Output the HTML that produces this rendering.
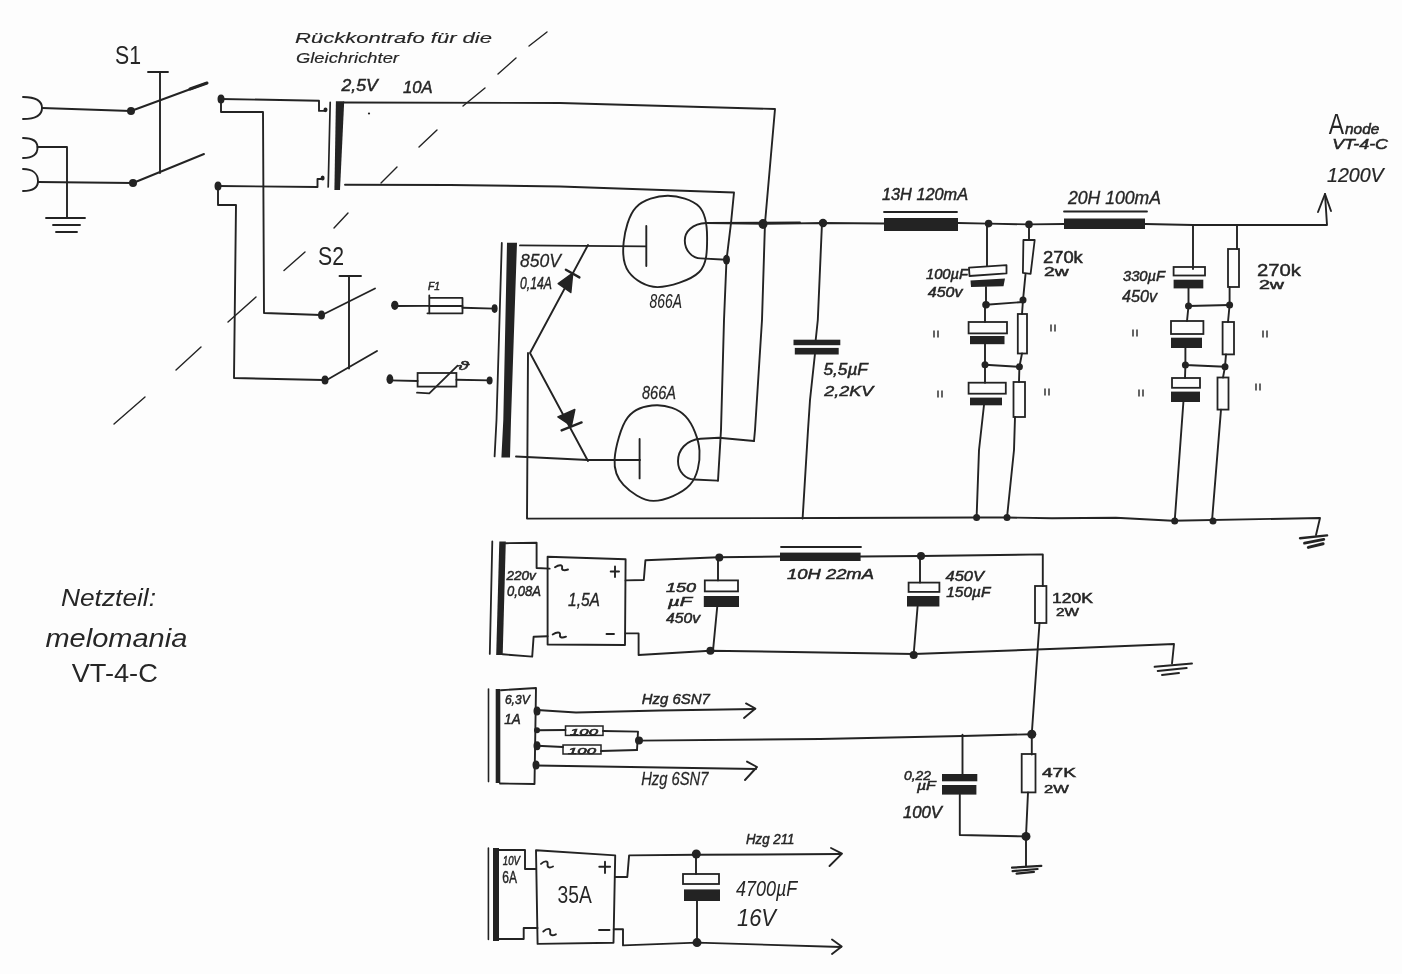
<!DOCTYPE html>
<html><head><meta charset="utf-8"><style>
html,body{margin:0;padding:0;background:#fdfdfd;}
svg{display:block;will-change:transform;}
</style></head><body>
<svg width="1402" height="974" viewBox="0 0 1402 974">
<rect width="1402" height="974" fill="#fdfdfd"/>
<path d="M23,97 C37,97 42,102 42,108 C42,114 37,119 23,119" stroke="#232323" stroke-width="1.9" fill="none" stroke-linecap="round" stroke-linejoin="round"/>
<path d="M23,138 C33,138 37.5,142 37.5,147.5 C37.5,154 33,158 23,158" stroke="#232323" stroke-width="1.9" fill="none" stroke-linecap="round" stroke-linejoin="round"/>
<path d="M23,169 C33,169 38,174 38,181 C38,187 33,191 23,191" stroke="#232323" stroke-width="1.9" fill="none" stroke-linecap="round" stroke-linejoin="round"/>
<path d="M42,108 L131,111" stroke="#232323" stroke-width="1.9" fill="none" stroke-linecap="round" stroke-linejoin="round"/>
<ellipse cx="131" cy="111" rx="4" ry="4" fill="#232323"/>
<path d="M131,111 L207,83" stroke="#232323" stroke-width="1.9" fill="none" stroke-linecap="round" stroke-linejoin="round"/>
<path d="M190,89 L207,83" stroke="#232323" stroke-width="3" fill="none" stroke-linecap="round" stroke-linejoin="round"/>
<path d="M37.5,147 L67,147 L67,218" stroke="#232323" stroke-width="1.9" fill="none" stroke-linecap="round" stroke-linejoin="round"/>
<path d="M46,218 L85,218" stroke="#232323" stroke-width="1.9" fill="none" stroke-linecap="round" stroke-linejoin="round"/>
<path d="M53,225 L80,225" stroke="#232323" stroke-width="1.9" fill="none" stroke-linecap="round" stroke-linejoin="round"/>
<path d="M56,232 L77,232" stroke="#232323" stroke-width="1.9" fill="none" stroke-linecap="round" stroke-linejoin="round"/>
<path d="M38,182 L133,183" stroke="#232323" stroke-width="1.9" fill="none" stroke-linecap="round" stroke-linejoin="round"/>
<ellipse cx="133" cy="183" rx="4" ry="4" fill="#232323"/>
<path d="M133,183 L204,154" stroke="#232323" stroke-width="1.9" fill="none" stroke-linecap="round" stroke-linejoin="round"/>
<path d="M148,72 L168,72" stroke="#232323" stroke-width="1.9" fill="none" stroke-linecap="round" stroke-linejoin="round"/>
<path d="M160,72 L160,173" stroke="#232323" stroke-width="1.9" fill="none" stroke-linecap="round" stroke-linejoin="round"/>
<text x="115" y="64" font-family="Liberation Sans" font-size="26.0" font-style="normal" textLength="26" lengthAdjust="spacingAndGlyphs" fill="#262626">S1</text>
<ellipse cx="221" cy="99" rx="3.5" ry="4.5" fill="#232323"/>
<path d="M221,99 L319,100.7 L319,110.9 L324.8,110.9" stroke="#232323" stroke-width="1.9" fill="none" stroke-linecap="round" stroke-linejoin="round"/>
<ellipse cx="325.5" cy="109.8" rx="2" ry="2.4" fill="#232323"/>
<path d="M221,99 L221,112 L263,112 L264,313 L321,315" stroke="#232323" stroke-width="1.9" fill="none" stroke-linecap="round" stroke-linejoin="round"/>
<ellipse cx="321.5" cy="315" rx="3.5" ry="4.5" fill="#232323"/>
<ellipse cx="218" cy="186" rx="3.5" ry="4.5" fill="#232323"/>
<path d="M218,186 L317.5,187 L317.5,179 L320.9,179" stroke="#232323" stroke-width="1.9" fill="none" stroke-linecap="round" stroke-linejoin="round"/>
<ellipse cx="322.6" cy="178" rx="2" ry="2.6" fill="#232323"/>
<path d="M218,186 L218,205 L236,205 L234,378 L323,380" stroke="#232323" stroke-width="1.9" fill="none" stroke-linecap="round" stroke-linejoin="round"/>
<ellipse cx="325" cy="380" rx="3.5" ry="4.5" fill="#232323"/>
<path d="M330.2,102.4 L328.2,187" stroke="#232323" stroke-width="1.7" fill="none" stroke-linecap="round" stroke-linejoin="round"/>
<polygon points="335.9,101.3 344.2,101.3 340,189.9 334.4,189.9" fill="#232323"/>
<path d="M344,102.5 L560,103 L775,109 L765,223 L762,320 L755,430 L754,441" stroke="#232323" stroke-width="1.9" fill="none" stroke-linecap="round" stroke-linejoin="round"/>
<path d="M345,184.7 L450,185 L560,186.5 L734,192.5 L731,223 L726.5,260 L724,320 L721,430 L718,480.6" stroke="#232323" stroke-width="1.9" fill="none" stroke-linecap="round" stroke-linejoin="round"/>
<text x="341.5" y="91.2" font-family="Liberation Sans" font-size="16.0" font-style="italic" textLength="36.10000000000002" lengthAdjust="spacingAndGlyphs" fill="#262626" stroke="#262626" stroke-width="0.5">2,5V</text>
<text x="403" y="92.6" font-family="Liberation Sans" font-size="16.5" font-style="italic" textLength="29.600000000000023" lengthAdjust="spacingAndGlyphs" fill="#262626" stroke="#262626" stroke-width="0.46">10A</text>
<text x="295" y="42.7" font-family="Liberation Sans" font-size="14.0" font-style="italic" textLength="197" lengthAdjust="spacingAndGlyphs" fill="#262626" stroke="#262626" stroke-width="0.15">Rückkontrafo für die</text>
<text x="296" y="63" font-family="Liberation Sans" font-size="14.0" font-style="italic" textLength="103" lengthAdjust="spacingAndGlyphs" fill="#262626" stroke="#262626" stroke-width="0.15">Gleichrichter</text>
<ellipse cx="369" cy="113.5" rx="1.1" ry="1.1" fill="#232323"/>
<path d="M529,46 L547,32" stroke="#232323" stroke-width="1.4" fill="none" stroke-linecap="round" stroke-linejoin="round"/>
<path d="M498,74 L516,58" stroke="#232323" stroke-width="1.4" fill="none" stroke-linecap="round" stroke-linejoin="round"/>
<path d="M463,106 L485,88" stroke="#232323" stroke-width="1.4" fill="none" stroke-linecap="round" stroke-linejoin="round"/>
<path d="M419,147 L437,130" stroke="#232323" stroke-width="1.4" fill="none" stroke-linecap="round" stroke-linejoin="round"/>
<path d="M381,183 L397,167" stroke="#232323" stroke-width="1.4" fill="none" stroke-linecap="round" stroke-linejoin="round"/>
<path d="M334,228 L348,213" stroke="#232323" stroke-width="1.4" fill="none" stroke-linecap="round" stroke-linejoin="round"/>
<path d="M284,270.5 L305,252" stroke="#232323" stroke-width="1.4" fill="none" stroke-linecap="round" stroke-linejoin="round"/>
<path d="M228,322 L256,297" stroke="#232323" stroke-width="1.4" fill="none" stroke-linecap="round" stroke-linejoin="round"/>
<path d="M176,370 L201,347" stroke="#232323" stroke-width="1.4" fill="none" stroke-linecap="round" stroke-linejoin="round"/>
<path d="M114,424 L145,397" stroke="#232323" stroke-width="1.4" fill="none" stroke-linecap="round" stroke-linejoin="round"/>
<text x="318" y="265" font-family="Liberation Sans" font-size="25.0" font-style="normal" textLength="26" lengthAdjust="spacingAndGlyphs" fill="#262626">S2</text>
<path d="M339.5,276 L361,276" stroke="#232323" stroke-width="1.9" fill="none" stroke-linecap="round" stroke-linejoin="round"/>
<path d="M349,276 L349,368.5" stroke="#232323" stroke-width="1.9" fill="none" stroke-linecap="round" stroke-linejoin="round"/>
<path d="M322,315 L375,288.5" stroke="#232323" stroke-width="1.9" fill="none" stroke-linecap="round" stroke-linejoin="round"/>
<path d="M325,381 L377,351" stroke="#232323" stroke-width="1.9" fill="none" stroke-linecap="round" stroke-linejoin="round"/>
<ellipse cx="394.8" cy="305.3" rx="3.7" ry="4.6" fill="#232323"/>
<ellipse cx="494.6" cy="308.6" rx="3" ry="4.3" fill="#232323"/>
<path d="M394.8,306 L429.3,305.9" stroke="#232323" stroke-width="1.9" fill="none" stroke-linecap="round" stroke-linejoin="round"/>
<path d="M462.5,307.7 L494.6,308.6" stroke="#232323" stroke-width="1.9" fill="none" stroke-linecap="round" stroke-linejoin="round"/>
<path d="M429.3,295.5 L429.3,313.3 L462.5,313.3 L462.5,297.9 L429.3,297.9" stroke="#232323" stroke-width="1.8" fill="none" stroke-linecap="round" stroke-linejoin="round"/>
<path d="M427.4,313.3 L429.3,313.3" stroke="#232323" stroke-width="1.8" fill="none" stroke-linecap="round" stroke-linejoin="round"/>
<path d="M429.3,306 L462.5,306" stroke="#232323" stroke-width="1.8" fill="none" stroke-linecap="round" stroke-linejoin="round"/>
<text x="428" y="289.9" font-family="Liberation Sans" font-size="11.0" font-style="italic" textLength="12" lengthAdjust="spacingAndGlyphs" fill="#262626" stroke="#262626" stroke-width="0.5">F1</text>
<ellipse cx="389.9" cy="379.2" rx="3.4" ry="4.9" fill="#232323"/>
<ellipse cx="489.6" cy="380.4" rx="3" ry="4" fill="#232323"/>
<path d="M389.9,380.4 L417.6,381" stroke="#232323" stroke-width="1.9" fill="none" stroke-linecap="round" stroke-linejoin="round"/>
<path d="M456.4,379.8 L489.6,380.4" stroke="#232323" stroke-width="1.9" fill="none" stroke-linecap="round" stroke-linejoin="round"/>
<rect x="417.6" y="373" width="38.799999999999955" height="13.600000000000023" stroke="#232323" stroke-width="1.8" fill="none"/>
<path d="M417,392.7 L429.3,393.3 L457.6,365.6" stroke="#232323" stroke-width="1.8" fill="none" stroke-linecap="round" stroke-linejoin="round"/>
<text x="458" y="370" font-family="Liberation Sans" font-size="13.0" font-style="italic" textLength="11" lengthAdjust="spacingAndGlyphs" fill="#262626" stroke="#262626" stroke-width="0.5">ϑ</text>
<path d="M501.8,243 L499.5,320 L496.5,420 L494.6,456.4" stroke="#232323" stroke-width="1.8" fill="none" stroke-linecap="round" stroke-linejoin="round"/>
<polygon points="507,242.8 517,242.8 511,420 510,457.6 501.4,457.6 503.3,420" fill="#232323"/>
<path d="M520,245.4 L646,246.4" stroke="#232323" stroke-width="1.9" fill="none" stroke-linecap="round" stroke-linejoin="round"/>
<path d="M588,245 L530,353 L588,461" stroke="#232323" stroke-width="1.9" fill="none" stroke-linecap="round" stroke-linejoin="round"/>
<path d="M516,456.5 L588,460 L640,460" stroke="#232323" stroke-width="1.9" fill="none" stroke-linecap="round" stroke-linejoin="round"/>
<path d="M528,353 L527,518.6 L830,518 L977,517.5 L1007,517.5 L1052,518.3 L1116,517.8 L1172.6,520.8 L1320,518 L1316,535" stroke="#232323" stroke-width="1.9" fill="none" stroke-linecap="round" stroke-linejoin="round"/>
<text x="520" y="267" font-family="Liberation Sans" font-size="19.0" font-style="italic" textLength="41" lengthAdjust="spacingAndGlyphs" fill="#262626" stroke="#262626" stroke-width="0.26">850V</text>
<text x="520" y="289" font-family="Liberation Sans" font-size="17.0" font-style="italic" textLength="32" lengthAdjust="spacingAndGlyphs" fill="#262626" stroke="#262626" stroke-width="0.42">0,14A</text>
<polygon points="572.7,273.1 558.2,283.6 570.8,292.5" fill="#232323" stroke="#232323" stroke-width="1.5" stroke-linejoin="round"/>
<path d="M565.9,269.7 L579.4,277.4" stroke="#232323" stroke-width="2.4" fill="none" stroke-linecap="round" stroke-linejoin="round"/>
<polygon points="571.4,425.8 557.9,416.9 574.8,409.5" fill="#232323" stroke="#232323" stroke-width="1.5" stroke-linejoin="round"/>
<path d="M561.6,430.4 L581.6,422.4" stroke="#232323" stroke-width="2.4" fill="none" stroke-linecap="round" stroke-linejoin="round"/>
<path d="M667.6,195.8 C678.1,195.7 692.6,199.7 699.2,206.6 C705.8,213.5 707.1,226.6 707.1,237.5 C707.1,248.4 707.5,263.7 699.2,272.0 C690.9,280.3 669.2,287.1 657.5,287.1 C645.8,287.1 634.4,279.6 628.8,272.0 C623.2,264.4 622.5,252.6 623.7,241.8 C624.9,231.0 628.7,215.0 636.0,207.3 C643.3,199.6 657.1,195.9 667.6,195.8Z" stroke="#232323" stroke-width="1.9" fill="none" stroke-linecap="round" stroke-linejoin="round"/>
<path d="M646.3,226 L646.3,266" stroke="#232323" stroke-width="1.9" fill="none" stroke-linecap="round" stroke-linejoin="round"/>
<path d="M800,222.4 L706.4,223 C692,223.5 684.8,232 684.8,240.4 C684.8,250 692,258.4 700.6,258.4 L726.5,259.8" stroke="#232323" stroke-width="1.9" fill="none" stroke-linecap="round" stroke-linejoin="round"/>
<ellipse cx="726.5" cy="259.8" rx="3.5" ry="5" fill="#232323"/>
<ellipse cx="763" cy="224" rx="4.5" ry="5" fill="#232323"/>
<text x="649.6" y="308" font-family="Liberation Sans" font-size="21.0" font-style="italic" textLength="32.39999999999998" lengthAdjust="spacingAndGlyphs" fill="#262626" stroke="#262626" stroke-width="0.1">866A</text>
<path d="M656.7,405.3 C666.3,405.1 678.5,408.8 685.6,416.4 C692.7,423.9 698.8,439.2 699.5,450.6 C700.2,462.0 697.6,476.5 689.9,484.9 C682.2,493.3 664.6,500.9 653.5,500.9 C642.4,500.9 630.0,491.8 623.5,484.9 C617.0,477.9 613.9,470.4 614.6,459.2 C615.3,447.9 620.8,426.4 627.8,417.4 C634.8,408.4 647.1,405.5 656.7,405.3Z" stroke="#232323" stroke-width="1.9" fill="none" stroke-linecap="round" stroke-linejoin="round"/>
<path d="M639.6,439 L639.6,478.4" stroke="#232323" stroke-width="1.9" fill="none" stroke-linecap="round" stroke-linejoin="round"/>
<path d="M754,441 L718.8,437.8 L700.6,438.8 C686,440 678,450 678,461.3 C678,472 686,479.5 694,479.5 L717.7,480.6" stroke="#232323" stroke-width="1.9" fill="none" stroke-linecap="round" stroke-linejoin="round"/>
<text x="642" y="399" font-family="Liberation Sans" font-size="19.0" font-style="italic" textLength="34" lengthAdjust="spacingAndGlyphs" fill="#262626" stroke="#262626" stroke-width="0.26">866A</text>
<path d="M706,223 L765,223.9 L823,223 L884,223.5" stroke="#232323" stroke-width="1.9" fill="none" stroke-linecap="round" stroke-linejoin="round"/>
<path d="M958,223 L988.6,223.6 L1029,224.4 L1064,224" stroke="#232323" stroke-width="1.9" fill="none" stroke-linecap="round" stroke-linejoin="round"/>
<path d="M1145,224 L1193,225 L1237,225 L1327,225 L1325,194" stroke="#232323" stroke-width="1.9" fill="none" stroke-linecap="round" stroke-linejoin="round"/>
<path d="M1318,212 L1325,194 L1331,211" stroke="#232323" stroke-width="1.9" fill="none" stroke-linecap="round" stroke-linejoin="round"/>
<ellipse cx="823" cy="223" rx="4.2" ry="4.2" fill="#232323"/>
<ellipse cx="988.6" cy="223.6" rx="3.8" ry="3.8" fill="#232323"/>
<ellipse cx="1029" cy="224.4" rx="3.8" ry="3.8" fill="#232323"/>
<rect x="884" y="218" width="74" height="13" fill="#232323"/>
<path d="M884,212 L957,212" stroke="#232323" stroke-width="1.8" fill="none" stroke-linecap="round" stroke-linejoin="round"/>
<rect x="1064" y="218.5" width="81" height="10.5" fill="#232323"/>
<path d="M1064,211.5 L1147,211.5" stroke="#232323" stroke-width="1.8" fill="none" stroke-linecap="round" stroke-linejoin="round"/>
<text x="882" y="200" font-family="Liberation Sans" font-size="16.5" font-style="italic" textLength="86" lengthAdjust="spacingAndGlyphs" fill="#262626" stroke="#262626" stroke-width="0.46">13H 120mA</text>
<text x="1068" y="203.5" font-family="Liberation Sans" font-size="18.0" font-style="italic" textLength="93" lengthAdjust="spacingAndGlyphs" fill="#262626" stroke="#262626" stroke-width="0.34">20H 100mA</text>
<text x="1328.7" y="134.2" font-family="Liberation Sans" font-size="30.0" font-style="normal" textLength="15.299999999999955" lengthAdjust="spacingAndGlyphs" fill="#262626">A</text>
<text x="1345" y="134" font-family="Liberation Sans" font-size="14.0" font-style="italic" textLength="34.299999999999955" lengthAdjust="spacingAndGlyphs" fill="#262626" stroke="#262626" stroke-width="0.5">node</text>
<text x="1332.2" y="148.6" font-family="Liberation Sans" font-size="14.0" font-style="italic" textLength="55.799999999999955" lengthAdjust="spacingAndGlyphs" fill="#262626" stroke="#262626" stroke-width="0.5">VT-4-C</text>
<text x="1327" y="182.2" font-family="Liberation Sans" font-size="19.5" font-style="italic" textLength="56.700000000000045" lengthAdjust="spacingAndGlyphs" fill="#262626" stroke="#262626" stroke-width="0.22">1200V</text>
<path d="M822,223 L817.8,320 L815.7,340" stroke="#232323" stroke-width="1.9" fill="none" stroke-linecap="round" stroke-linejoin="round"/>
<rect x="793.5" y="339.7" width="46.799999999999955" height="5.5" fill="#232323"/>
<rect x="794.8" y="347.9" width="43.90000000000009" height="6.600000000000023" fill="#232323"/>
<path d="M814.9,354.5 L810,400 L808,430 L802.6,518.5" stroke="#232323" stroke-width="1.9" fill="none" stroke-linecap="round" stroke-linejoin="round"/>
<text x="823.5" y="374.6" font-family="Liberation Sans" font-size="16.0" font-style="italic" textLength="44.299999999999955" lengthAdjust="spacingAndGlyphs" fill="#262626" stroke="#262626" stroke-width="0.5">5,5µF</text>
<text x="824.3" y="396" font-family="Liberation Sans" font-size="15.5" font-style="italic" textLength="48.90000000000009" lengthAdjust="spacingAndGlyphs" fill="#262626" stroke="#262626" stroke-width="0.5">2,2KV</text>
<path d="M987,223.6 L987,265.4" stroke="#232323" stroke-width="1.9" fill="none" stroke-linecap="round" stroke-linejoin="round"/>
<polygon points="969,267.7 1006.5,265.2 1006.5,273.4 969.5,276" stroke="#232323" stroke-width="1.8" fill="none" stroke-linejoin="round"/>
<polygon points="970.5,280.5 1005,278.5 1003.5,286.2 971,287" fill="#232323"/>
<path d="M986,287 L986,304.7 L1023,302" stroke="#232323" stroke-width="1.9" fill="none" stroke-linecap="round" stroke-linejoin="round"/>
<ellipse cx="986" cy="304.7" rx="3.8" ry="3.8" fill="#232323"/>
<ellipse cx="1023" cy="300" rx="3.5" ry="3.5" fill="#232323"/>
<path d="M985,304.7 L985,322" stroke="#232323" stroke-width="1.9" fill="none" stroke-linecap="round" stroke-linejoin="round"/>
<rect x="968.6" y="322" width="38.39999999999998" height="11.399999999999977" stroke="#232323" stroke-width="1.8" fill="none"/>
<rect x="970" y="336" width="34.5" height="8.199999999999989" fill="#232323"/>
<path d="M985,344 L985,364.7 L1019.4,366.8" stroke="#232323" stroke-width="1.9" fill="none" stroke-linecap="round" stroke-linejoin="round"/>
<ellipse cx="985" cy="364.7" rx="3.5" ry="3.5" fill="#232323"/>
<ellipse cx="1019.4" cy="366.8" rx="3.5" ry="3.5" fill="#232323"/>
<path d="M985,364.7 L985,382.7" stroke="#232323" stroke-width="1.9" fill="none" stroke-linecap="round" stroke-linejoin="round"/>
<rect x="968.6" y="382.7" width="37.19999999999993" height="11.0" stroke="#232323" stroke-width="1.8" fill="none"/>
<rect x="970" y="397.6" width="32" height="7.699999999999989" fill="#232323"/>
<path d="M984,405 L979,450 L976.6,517.5" stroke="#232323" stroke-width="1.9" fill="none" stroke-linecap="round" stroke-linejoin="round"/>
<ellipse cx="976.6" cy="517.5" rx="3.5" ry="3.5" fill="#232323"/>
<ellipse cx="1007" cy="517.5" rx="3.5" ry="3.5" fill="#232323"/>
<path d="M1029,224.4 L1029,239" stroke="#232323" stroke-width="1.9" fill="none" stroke-linecap="round" stroke-linejoin="round"/>
<polygon points="1023.4,240 1034.7,240 1030.6,273.9 1022.9,272.9" stroke="#232323" stroke-width="1.8" fill="none" stroke-linejoin="round"/>
<path d="M1025.5,274.4 L1023,300 L1022,314" stroke="#232323" stroke-width="1.9" fill="none" stroke-linecap="round" stroke-linejoin="round"/>
<rect x="1017.8" y="314" width="9.200000000000045" height="39.5" stroke="#232323" stroke-width="1.8" fill="none"/>
<path d="M1022,353.5 L1019.4,366.8 L1019,382" stroke="#232323" stroke-width="1.9" fill="none" stroke-linecap="round" stroke-linejoin="round"/>
<rect x="1013.5" y="382" width="11.5" height="35" stroke="#232323" stroke-width="1.8" fill="none"/>
<path d="M1015,417 L1014,450 L1007,517.5" stroke="#232323" stroke-width="1.9" fill="none" stroke-linecap="round" stroke-linejoin="round"/>
<text x="926" y="279" font-family="Liberation Sans" font-size="14.0" font-style="italic" textLength="42" lengthAdjust="spacingAndGlyphs" fill="#262626" stroke="#262626" stroke-width="0.5">100µF</text>
<text x="927.8" y="297.3" font-family="Liberation Sans" font-size="14.0" font-style="italic" textLength="34.60000000000002" lengthAdjust="spacingAndGlyphs" fill="#262626" stroke="#262626" stroke-width="0.5">450v</text>
<text x="1043" y="263" font-family="Liberation Sans" font-size="16.0" font-style="normal" textLength="39.799999999999955" lengthAdjust="spacingAndGlyphs" fill="#262626" stroke="#262626" stroke-width="0.5">270k</text>
<text x="1044" y="275.7" font-family="Liberation Sans" font-size="12.5" font-style="normal" textLength="24.59999999999991" lengthAdjust="spacingAndGlyphs" fill="#262626" stroke="#262626" stroke-width="0.5">2w</text>
<path d="M1193,225 L1193,269" stroke="#232323" stroke-width="1.9" fill="none" stroke-linecap="round" stroke-linejoin="round"/>
<rect x="1173.6" y="267" width="31.40000000000009" height="8.5" stroke="#232323" stroke-width="1.8" fill="none"/>
<rect x="1173.6" y="279.7" width="29.700000000000045" height="8.699999999999989" fill="#232323"/>
<path d="M1188.5,288 L1188.5,306 L1229.6,305" stroke="#232323" stroke-width="1.9" fill="none" stroke-linecap="round" stroke-linejoin="round"/>
<ellipse cx="1188.5" cy="306" rx="3.5" ry="3.5" fill="#232323"/>
<ellipse cx="1229.6" cy="305" rx="3.5" ry="3.5" fill="#232323"/>
<path d="M1188.5,306 L1187,321" stroke="#232323" stroke-width="1.9" fill="none" stroke-linecap="round" stroke-linejoin="round"/>
<rect x="1171" y="321" width="32.40000000000009" height="13" stroke="#232323" stroke-width="1.8" fill="none"/>
<rect x="1171" y="337.7" width="31" height="10.300000000000011" fill="#232323"/>
<path d="M1185.4,348 L1185.4,365 L1225,366.7" stroke="#232323" stroke-width="1.9" fill="none" stroke-linecap="round" stroke-linejoin="round"/>
<ellipse cx="1185.4" cy="365" rx="3.5" ry="3.5" fill="#232323"/>
<ellipse cx="1225" cy="366.7" rx="3.5" ry="3.5" fill="#232323"/>
<path d="M1185.4,365 L1185,378" stroke="#232323" stroke-width="1.9" fill="none" stroke-linecap="round" stroke-linejoin="round"/>
<rect x="1172" y="378" width="28" height="9.800000000000011" stroke="#232323" stroke-width="1.8" fill="none"/>
<rect x="1171" y="391.6" width="29" height="10.399999999999977" fill="#232323"/>
<path d="M1183.4,402 L1174.7,521" stroke="#232323" stroke-width="1.9" fill="none" stroke-linecap="round" stroke-linejoin="round"/>
<ellipse cx="1174.7" cy="521" rx="3.5" ry="3.5" fill="#232323"/>
<ellipse cx="1213" cy="521" rx="3.5" ry="3.5" fill="#232323"/>
<path d="M1237,225 L1237,249" stroke="#232323" stroke-width="1.9" fill="none" stroke-linecap="round" stroke-linejoin="round"/>
<rect x="1228" y="249" width="11" height="38" stroke="#232323" stroke-width="1.8" fill="none"/>
<path d="M1229.6,287 L1229.6,305 L1228,322" stroke="#232323" stroke-width="1.9" fill="none" stroke-linecap="round" stroke-linejoin="round"/>
<rect x="1222.6" y="322" width="11.400000000000091" height="32.39999999999998" stroke="#232323" stroke-width="1.8" fill="none"/>
<path d="M1226,354.4 L1225,366.7 L1223,377.5" stroke="#232323" stroke-width="1.9" fill="none" stroke-linecap="round" stroke-linejoin="round"/>
<rect x="1217.5" y="377.5" width="11.0" height="32.10000000000002" stroke="#232323" stroke-width="1.8" fill="none"/>
<path d="M1221,409.6 L1212,521" stroke="#232323" stroke-width="1.9" fill="none" stroke-linecap="round" stroke-linejoin="round"/>
<text x="1123" y="281" font-family="Liberation Sans" font-size="15.0" font-style="italic" textLength="42" lengthAdjust="spacingAndGlyphs" fill="#262626" stroke="#262626" stroke-width="0.5">330µF</text>
<text x="1122" y="302" font-family="Liberation Sans" font-size="17.0" font-style="italic" textLength="35" lengthAdjust="spacingAndGlyphs" fill="#262626" stroke="#262626" stroke-width="0.42">450v</text>
<text x="1257" y="276" font-family="Liberation Sans" font-size="17.0" font-style="normal" textLength="44" lengthAdjust="spacingAndGlyphs" fill="#262626" stroke="#262626" stroke-width="0.42">270k</text>
<text x="1259" y="289" font-family="Liberation Sans" font-size="12.5" font-style="normal" textLength="25" lengthAdjust="spacingAndGlyphs" fill="#262626" stroke="#262626" stroke-width="0.5">2w</text>
<path d="M1300,538.2 L1327.1,535.4" stroke="#232323" stroke-width="2.4" fill="none" stroke-linecap="round" stroke-linejoin="round"/>
<path d="M1304.6,543.1 L1323.7,539.4" stroke="#232323" stroke-width="3" fill="none" stroke-linecap="round" stroke-linejoin="round"/>
<path d="M1308.3,547.4 L1323.1,543.7" stroke="#232323" stroke-width="3" fill="none" stroke-linecap="round" stroke-linejoin="round"/>
<path d="M934,331 L934,337" stroke="#232323" stroke-width="1.4" fill="none" stroke-linecap="round" stroke-linejoin="round"/>
<path d="M938,331 L938,337" stroke="#232323" stroke-width="1.4" fill="none" stroke-linecap="round" stroke-linejoin="round"/>
<path d="M1051,325 L1051,331" stroke="#232323" stroke-width="1.4" fill="none" stroke-linecap="round" stroke-linejoin="round"/>
<path d="M1055,325 L1055,331" stroke="#232323" stroke-width="1.4" fill="none" stroke-linecap="round" stroke-linejoin="round"/>
<path d="M938,391 L938,397" stroke="#232323" stroke-width="1.4" fill="none" stroke-linecap="round" stroke-linejoin="round"/>
<path d="M942,391 L942,397" stroke="#232323" stroke-width="1.4" fill="none" stroke-linecap="round" stroke-linejoin="round"/>
<path d="M1045,389 L1045,395" stroke="#232323" stroke-width="1.4" fill="none" stroke-linecap="round" stroke-linejoin="round"/>
<path d="M1049,389 L1049,395" stroke="#232323" stroke-width="1.4" fill="none" stroke-linecap="round" stroke-linejoin="round"/>
<path d="M1133,330 L1133,336" stroke="#232323" stroke-width="1.4" fill="none" stroke-linecap="round" stroke-linejoin="round"/>
<path d="M1137,330 L1137,336" stroke="#232323" stroke-width="1.4" fill="none" stroke-linecap="round" stroke-linejoin="round"/>
<path d="M1139,390 L1139,396" stroke="#232323" stroke-width="1.4" fill="none" stroke-linecap="round" stroke-linejoin="round"/>
<path d="M1143,390 L1143,396" stroke="#232323" stroke-width="1.4" fill="none" stroke-linecap="round" stroke-linejoin="round"/>
<path d="M1263,331 L1263,337" stroke="#232323" stroke-width="1.4" fill="none" stroke-linecap="round" stroke-linejoin="round"/>
<path d="M1267,331 L1267,337" stroke="#232323" stroke-width="1.4" fill="none" stroke-linecap="round" stroke-linejoin="round"/>
<path d="M1256,384 L1256,390" stroke="#232323" stroke-width="1.4" fill="none" stroke-linecap="round" stroke-linejoin="round"/>
<path d="M1260,384 L1260,390" stroke="#232323" stroke-width="1.4" fill="none" stroke-linecap="round" stroke-linejoin="round"/>
<path d="M492.3,541.4 L489.8,653.9" stroke="#232323" stroke-width="1.8" fill="none" stroke-linecap="round" stroke-linejoin="round"/>
<polygon points="499.3,541.4 505.8,541.4 502.7,655 496.2,655" fill="#232323"/>
<path d="M505.8,543.2 L536.6,542.8 L536.6,568 L549.6,568.6" stroke="#232323" stroke-width="1.9" fill="none" stroke-linecap="round" stroke-linejoin="round"/>
<path d="M502.7,654.3 L532.2,656.6 L533.6,636.8 L547.6,636.3" stroke="#232323" stroke-width="1.9" fill="none" stroke-linecap="round" stroke-linejoin="round"/>
<polygon points="547.6,556.8 625.6,559.3 625,645 547.6,644.5" stroke="#232323" stroke-width="1.9" fill="none" stroke-linejoin="round"/>
<path d="M555,567.3 C558.9,564.5 562.8,564.5 562.1,567.6 C561.5,570.7 564.8,570.7 568,569.5" stroke="#232323" stroke-width="1.9" fill="none" stroke-linecap="round" stroke-linejoin="round"/>
<path d="M552.7,634.5 C556.7,631.7 560.7,631.7 560.0,634.9 C559.4,638.0 562.7,638.0 566,636.7" stroke="#232323" stroke-width="1.9" fill="none" stroke-linecap="round" stroke-linejoin="round"/>
<path d="M610.7,571.5 L619,571.5" stroke="#232323" stroke-width="1.9" fill="none" stroke-linecap="round" stroke-linejoin="round"/>
<path d="M615,566.5 L615,577" stroke="#232323" stroke-width="1.9" fill="none" stroke-linecap="round" stroke-linejoin="round"/>
<path d="M606.5,634 L614,634" stroke="#232323" stroke-width="1.9" fill="none" stroke-linecap="round" stroke-linejoin="round"/>
<text x="568" y="606" font-family="Liberation Sans" font-size="18.0" font-style="italic" textLength="32" lengthAdjust="spacingAndGlyphs" fill="#262626" stroke="#262626" stroke-width="0.34">1,5A</text>
<path d="M625.6,580.4 L643.8,580 L645.4,560.3 L718.2,557.2 L780,556.5" stroke="#232323" stroke-width="1.9" fill="none" stroke-linecap="round" stroke-linejoin="round"/>
<path d="M860.6,556.5 L921,556 L1042.8,554.4 L1042.8,586" stroke="#232323" stroke-width="1.9" fill="none" stroke-linecap="round" stroke-linejoin="round"/>
<ellipse cx="719.3" cy="557.6" rx="4" ry="4" fill="#232323"/>
<ellipse cx="921" cy="556" rx="4" ry="4" fill="#232323"/>
<path d="M625.6,633.4 L638.6,633.4 L638.6,655 L710,650.7 L913.7,654 L1070,648.3 L1174,644 L1172,663.5" stroke="#232323" stroke-width="1.9" fill="none" stroke-linecap="round" stroke-linejoin="round"/>
<ellipse cx="710.4" cy="650.7" rx="4" ry="4" fill="#232323"/>
<ellipse cx="913.7" cy="655" rx="4" ry="4" fill="#232323"/>
<path d="M718,557 L718,580.4" stroke="#232323" stroke-width="1.9" fill="none" stroke-linecap="round" stroke-linejoin="round"/>
<rect x="704.8" y="580.4" width="33.200000000000045" height="11.0" stroke="#232323" stroke-width="1.8" fill="none"/>
<rect x="703.8" y="596" width="35.200000000000045" height="11" fill="#232323"/>
<path d="M717.2,607 L713,650.7" stroke="#232323" stroke-width="1.9" fill="none" stroke-linecap="round" stroke-linejoin="round"/>
<path d="M920,556 L920,582.6" stroke="#232323" stroke-width="1.9" fill="none" stroke-linecap="round" stroke-linejoin="round"/>
<rect x="908.6" y="582.6" width="30.799999999999955" height="9.299999999999955" stroke="#232323" stroke-width="1.8" fill="none"/>
<rect x="907" y="596" width="32.39999999999998" height="10.5" fill="#232323"/>
<path d="M917.6,606.5 L913.7,654" stroke="#232323" stroke-width="1.9" fill="none" stroke-linecap="round" stroke-linejoin="round"/>
<rect x="780" y="552.6" width="80.60000000000002" height="8.399999999999977" fill="#232323"/>
<path d="M781,547 L861,547" stroke="#232323" stroke-width="1.8" fill="none" stroke-linecap="round" stroke-linejoin="round"/>
<rect x="1035" y="586" width="11.400000000000091" height="37" stroke="#232323" stroke-width="1.8" fill="none"/>
<path d="M1039.5,623 L1031.8,733.5" stroke="#232323" stroke-width="1.9" fill="none" stroke-linecap="round" stroke-linejoin="round"/>
<path d="M1154.6,666.8 L1192,663.5" stroke="#232323" stroke-width="1.9" fill="none" stroke-linecap="round" stroke-linejoin="round"/>
<path d="M1157.7,671 L1186.7,668" stroke="#232323" stroke-width="1.9" fill="none" stroke-linecap="round" stroke-linejoin="round"/>
<path d="M1162,675 L1179,673" stroke="#232323" stroke-width="1.9" fill="none" stroke-linecap="round" stroke-linejoin="round"/>
<text x="506.4" y="580" font-family="Liberation Sans" font-size="13.0" font-style="italic" textLength="29.300000000000068" lengthAdjust="spacingAndGlyphs" fill="#262626" stroke="#262626" stroke-width="0.5">220v</text>
<text x="506.9" y="595.5" font-family="Liberation Sans" font-size="15.0" font-style="italic" textLength="34.10000000000002" lengthAdjust="spacingAndGlyphs" fill="#262626" stroke="#262626" stroke-width="0.5">0,08A</text>
<text x="666" y="592.4" font-family="Liberation Sans" font-size="12.0" font-style="italic" textLength="30" lengthAdjust="spacingAndGlyphs" fill="#262626" stroke="#262626" stroke-width="0.5">150</text>
<text x="668" y="606" font-family="Liberation Sans" font-size="12.0" font-style="italic" textLength="24" lengthAdjust="spacingAndGlyphs" fill="#262626" stroke="#262626" stroke-width="0.5">µF</text>
<text x="666" y="623" font-family="Liberation Sans" font-size="14.0" font-style="italic" textLength="34" lengthAdjust="spacingAndGlyphs" fill="#262626" stroke="#262626" stroke-width="0.5">450v</text>
<text x="787" y="579.3" font-family="Liberation Sans" font-size="15.0" font-style="italic" textLength="87" lengthAdjust="spacingAndGlyphs" fill="#262626" stroke="#262626" stroke-width="0.5">10H  22mA</text>
<text x="945.5" y="581" font-family="Liberation Sans" font-size="15.0" font-style="italic" textLength="38.5" lengthAdjust="spacingAndGlyphs" fill="#262626" stroke="#262626" stroke-width="0.5">450V</text>
<text x="946.3" y="596.6" font-family="Liberation Sans" font-size="14.0" font-style="italic" textLength="44.0" lengthAdjust="spacingAndGlyphs" fill="#262626" stroke="#262626" stroke-width="0.5">150µF</text>
<text x="1052" y="603" font-family="Liberation Sans" font-size="14.0" font-style="normal" textLength="41" lengthAdjust="spacingAndGlyphs" fill="#262626" stroke="#262626" stroke-width="0.5">120K</text>
<text x="1056" y="616" font-family="Liberation Sans" font-size="11.0" font-style="normal" textLength="23" lengthAdjust="spacingAndGlyphs" fill="#262626" stroke="#262626" stroke-width="0.5">2W</text>
<path d="M488.5,689 L488.5,781.6" stroke="#232323" stroke-width="1.6" fill="none" stroke-linecap="round" stroke-linejoin="round"/>
<rect x="495.7" y="689" width="4.600000000000023" height="94" fill="#232323"/>
<path d="M501,690.2 L536,688 L534.5,784 L500,783.5" stroke="#232323" stroke-width="1.9" fill="none" stroke-linecap="round" stroke-linejoin="round"/>
<ellipse cx="537" cy="711" rx="3.5" ry="4.5" fill="#232323"/>
<ellipse cx="537" cy="730.3" rx="3" ry="3" fill="#232323"/>
<ellipse cx="537" cy="745.7" rx="3.5" ry="4.5" fill="#232323"/>
<ellipse cx="536" cy="765" rx="3.5" ry="4.5" fill="#232323"/>
<path d="M537,710 L576,712.5 L660,710.5 L754.8,709" stroke="#232323" stroke-width="1.9" fill="none" stroke-linecap="round" stroke-linejoin="round"/>
<path d="M746,703.4 L755.4,708.5 L744,718" stroke="#232323" stroke-width="1.9" fill="none" stroke-linecap="round" stroke-linejoin="round"/>
<path d="M537,730.3 L565.5,730" stroke="#232323" stroke-width="1.9" fill="none" stroke-linecap="round" stroke-linejoin="round"/>
<rect x="565.5" y="726" width="37.5" height="9.399999999999977" stroke="#232323" stroke-width="1.5" fill="none"/>
<path d="M603,731 L638,731.6 L637,750" stroke="#232323" stroke-width="1.9" fill="none" stroke-linecap="round" stroke-linejoin="round"/>
<path d="M537,745.7 L563,747" stroke="#232323" stroke-width="1.9" fill="none" stroke-linecap="round" stroke-linejoin="round"/>
<rect x="563" y="745" width="38" height="9" stroke="#232323" stroke-width="1.5" fill="none"/>
<path d="M601,751 L637,750" stroke="#232323" stroke-width="1.9" fill="none" stroke-linecap="round" stroke-linejoin="round"/>
<text x="570" y="734.5" font-family="Liberation Sans" font-size="9.0" font-style="italic" textLength="28" lengthAdjust="spacingAndGlyphs" fill="#262626" stroke="#262626" stroke-width="0.5">100</text>
<text x="568" y="753.5" font-family="Liberation Sans" font-size="9.0" font-style="italic" textLength="28" lengthAdjust="spacingAndGlyphs" fill="#262626" stroke="#262626" stroke-width="0.5">100</text>
<ellipse cx="639" cy="740.6" rx="4" ry="4" fill="#232323"/>
<path d="M639,740.6 L820,739 L962.5,736 L1031.8,734.2" stroke="#232323" stroke-width="1.9" fill="none" stroke-linecap="round" stroke-linejoin="round"/>
<path d="M536,765.5 L756,769" stroke="#232323" stroke-width="1.9" fill="none" stroke-linecap="round" stroke-linejoin="round"/>
<path d="M747,761.6 L757,767 L745,780" stroke="#232323" stroke-width="1.9" fill="none" stroke-linecap="round" stroke-linejoin="round"/>
<text x="504.9" y="704.3" font-family="Liberation Sans" font-size="13.0" font-style="italic" textLength="24.800000000000068" lengthAdjust="spacingAndGlyphs" fill="#262626" stroke="#262626" stroke-width="0.5">6,3V</text>
<text x="504.3" y="723.5" font-family="Liberation Sans" font-size="14.5" font-style="italic" textLength="16.400000000000034" lengthAdjust="spacingAndGlyphs" fill="#262626" stroke="#262626" stroke-width="0.5">1A</text>
<text x="641.8" y="704" font-family="Liberation Sans" font-size="15.5" font-style="italic" textLength="67.90000000000009" lengthAdjust="spacingAndGlyphs" fill="#262626" stroke="#262626" stroke-width="0.5">Hzg 6SN7</text>
<text x="641.2" y="785" font-family="Liberation Sans" font-size="19.0" font-style="italic" textLength="67.29999999999995" lengthAdjust="spacingAndGlyphs" fill="#262626" stroke="#262626" stroke-width="0.26">Hzg 6SN7</text>
<path d="M962.5,734.7 L962.5,774" stroke="#232323" stroke-width="1.9" fill="none" stroke-linecap="round" stroke-linejoin="round"/>
<rect x="942" y="774" width="35.299999999999955" height="7.2999999999999545" fill="#232323"/>
<rect x="942" y="785" width="34.39999999999998" height="9.600000000000023" fill="#232323"/>
<path d="M959.8,794.6 L959.8,835 L1026,836.4" stroke="#232323" stroke-width="1.9" fill="none" stroke-linecap="round" stroke-linejoin="round"/>
<path d="M1031.8,734.2 L1031.8,754.5" stroke="#232323" stroke-width="1.9" fill="none" stroke-linecap="round" stroke-linejoin="round"/>
<rect x="1021.7" y="754" width="13.799999999999955" height="38.39999999999998" stroke="#232323" stroke-width="1.8" fill="none"/>
<path d="M1028,792.4 L1026,836 L1026,866.3" stroke="#232323" stroke-width="1.9" fill="none" stroke-linecap="round" stroke-linejoin="round"/>
<path d="M1012,867.7 L1041.3,865.9" stroke="#232323" stroke-width="2.2" fill="none" stroke-linecap="round" stroke-linejoin="round"/>
<path d="M1012.6,871.1 L1037.6,869" stroke="#232323" stroke-width="2.2" fill="none" stroke-linecap="round" stroke-linejoin="round"/>
<path d="M1016.6,873.6 L1033.9,871.8" stroke="#232323" stroke-width="2.2" fill="none" stroke-linecap="round" stroke-linejoin="round"/>
<ellipse cx="1031.8" cy="734.2" rx="4.5" ry="4.5" fill="#232323"/>
<ellipse cx="1026" cy="836.4" rx="4.5" ry="4.5" fill="#232323"/>
<text x="904" y="779.5" font-family="Liberation Sans" font-size="13.0" font-style="italic" textLength="27" lengthAdjust="spacingAndGlyphs" fill="#262626" stroke="#262626" stroke-width="0.5">0,22</text>
<text x="917" y="790" font-family="Liberation Sans" font-size="12.0" font-style="italic" textLength="18.799999999999955" lengthAdjust="spacingAndGlyphs" fill="#262626" stroke="#262626" stroke-width="0.5">µF</text>
<text x="903" y="818" font-family="Liberation Sans" font-size="16.0" font-style="italic" textLength="39" lengthAdjust="spacingAndGlyphs" fill="#262626" stroke="#262626" stroke-width="0.5">100V</text>
<text x="1042" y="776.7" font-family="Liberation Sans" font-size="13.0" font-style="normal" textLength="34" lengthAdjust="spacingAndGlyphs" fill="#262626" stroke="#262626" stroke-width="0.5">47K</text>
<text x="1044" y="793.3" font-family="Liberation Sans" font-size="11.5" font-style="normal" textLength="24.799999999999955" lengthAdjust="spacingAndGlyphs" fill="#262626" stroke="#262626" stroke-width="0.5">2W</text>
<path d="M488.4,848 L488.4,939.5" stroke="#232323" stroke-width="1.6" fill="none" stroke-linecap="round" stroke-linejoin="round"/>
<rect x="493" y="848" width="6" height="93" fill="#232323"/>
<path d="M499,850 L525,850 L525,869 L536,869" stroke="#232323" stroke-width="1.9" fill="none" stroke-linecap="round" stroke-linejoin="round"/>
<path d="M499,939 L523.7,939 L523.7,928 L537.5,928" stroke="#232323" stroke-width="1.9" fill="none" stroke-linecap="round" stroke-linejoin="round"/>
<polygon points="536,850.3 615.2,855.4 613.5,942.7 537.6,943.9" stroke="#232323" stroke-width="1.9" fill="none" stroke-linejoin="round"/>
<path d="M541,863.9 C544.6,860.5 548.2,860.5 547.6,864.2 C547.0,868.0 550.0,868.0 553,866.5" stroke="#232323" stroke-width="1.9" fill="none" stroke-linecap="round" stroke-linejoin="round"/>
<path d="M543.3,931.5 C547.1,927.9 550.9,927.9 550.2,931.9 C549.6,935.9 552.8,935.9 555.9,934.3" stroke="#232323" stroke-width="1.9" fill="none" stroke-linecap="round" stroke-linejoin="round"/>
<path d="M599.3,866.8 L610.1,866.8" stroke="#232323" stroke-width="1.9" fill="none" stroke-linecap="round" stroke-linejoin="round"/>
<path d="M605,861.7 L605,873" stroke="#232323" stroke-width="1.9" fill="none" stroke-linecap="round" stroke-linejoin="round"/>
<path d="M599,930 L609.5,930" stroke="#232323" stroke-width="1.9" fill="none" stroke-linecap="round" stroke-linejoin="round"/>
<text x="557.6" y="903.3" font-family="Liberation Sans" font-size="24.0" font-style="normal" textLength="34.19999999999993" lengthAdjust="spacingAndGlyphs" fill="#262626">35A</text>
<path d="M614.9,877 L627.3,877 L629.1,855.4 L696.3,854.8 L841,854" stroke="#232323" stroke-width="1.9" fill="none" stroke-linecap="round" stroke-linejoin="round"/>
<path d="M831,848 L842,853.6 L829.5,866" stroke="#232323" stroke-width="1.9" fill="none" stroke-linecap="round" stroke-linejoin="round"/>
<path d="M613.7,929.3 L623,929.3 L623,945.4 L697,942.6 L841,947" stroke="#232323" stroke-width="1.9" fill="none" stroke-linecap="round" stroke-linejoin="round"/>
<path d="M832,939.5 L841.7,946.5 L832,954" stroke="#232323" stroke-width="1.9" fill="none" stroke-linecap="round" stroke-linejoin="round"/>
<ellipse cx="696.3" cy="854" rx="4.5" ry="4.5" fill="#232323"/>
<ellipse cx="697" cy="942.6" rx="4.5" ry="4.5" fill="#232323"/>
<path d="M696,854 L696,874" stroke="#232323" stroke-width="1.9" fill="none" stroke-linecap="round" stroke-linejoin="round"/>
<rect x="683" y="874" width="36" height="10" stroke="#232323" stroke-width="1.8" fill="none"/>
<rect x="684" y="889.4" width="36" height="11.600000000000023" fill="#232323"/>
<path d="M697,901 L697,942.6" stroke="#232323" stroke-width="1.9" fill="none" stroke-linecap="round" stroke-linejoin="round"/>
<text x="502.8" y="864.5" font-family="Liberation Sans" font-size="13.0" font-style="italic" textLength="17.19999999999999" lengthAdjust="spacingAndGlyphs" fill="#262626" stroke="#262626" stroke-width="0.5">10V</text>
<text x="502.3" y="882.8" font-family="Liberation Sans" font-size="17.0" font-style="normal" textLength="14.699999999999989" lengthAdjust="spacingAndGlyphs" fill="#262626" stroke="#262626" stroke-width="0.42">6A</text>
<text x="746" y="844" font-family="Liberation Sans" font-size="15.0" font-style="italic" textLength="48.39999999999998" lengthAdjust="spacingAndGlyphs" fill="#262626" stroke="#262626" stroke-width="0.5">Hzg 211</text>
<text x="735.9" y="895.6" font-family="Liberation Sans" font-size="22.0" font-style="italic" textLength="61.39999999999998" lengthAdjust="spacingAndGlyphs" fill="#262626" stroke="#262626" stroke-width="0.02">4700µF</text>
<text x="737" y="926.3" font-family="Liberation Sans" font-size="23.0" font-style="italic" textLength="39" lengthAdjust="spacingAndGlyphs" fill="#262626">16V</text>
<text x="61" y="606" font-family="Liberation Sans" font-size="24.0" font-style="italic" textLength="95" lengthAdjust="spacingAndGlyphs" fill="#262626">Netzteil:</text>
<text x="45.4" y="647" font-family="Liberation Sans" font-size="25.0" font-style="italic" textLength="141.9" lengthAdjust="spacingAndGlyphs" fill="#262626">melomania</text>
<text x="71.7" y="682" font-family="Liberation Sans" font-size="25.0" font-style="normal" textLength="86.10000000000001" lengthAdjust="spacingAndGlyphs" fill="#262626">VT-4-C</text>
</svg>
</body></html>
